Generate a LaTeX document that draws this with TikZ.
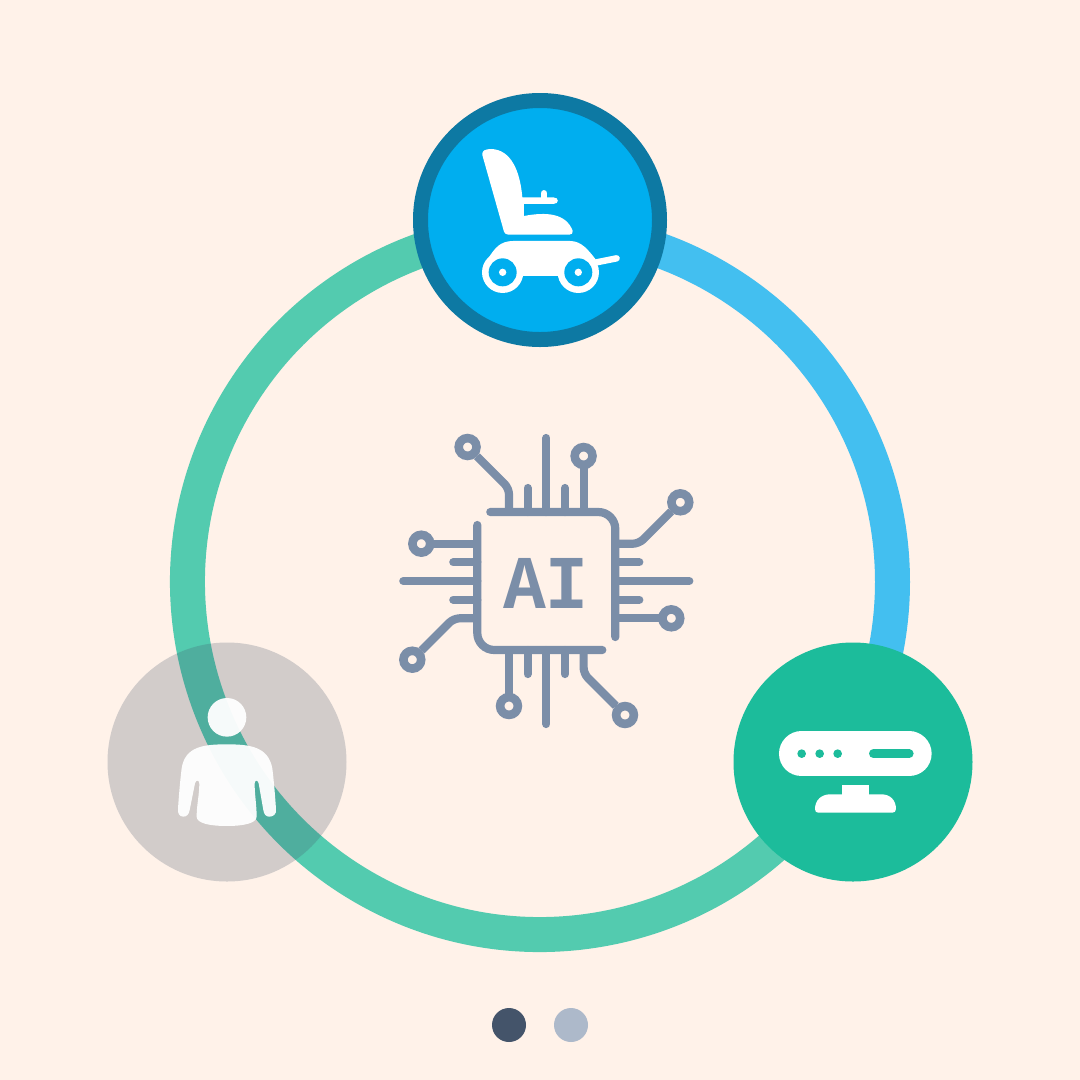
\documentclass[tikz,border=0pt]{standalone}
\usepackage{fontspec}
\usepackage{tikz}
\newfontfamily\chipfont{Liberation Mono}
\definecolor{paper}{HTML}{FFF2E9}
\definecolor{ringgreen}{HTML}{53CBAF}
\definecolor{ringblue}{HTML}{43BFF0}
\definecolor{chairblue}{HTML}{00AEEF}
\definecolor{chairedge}{HTML}{0D79A3}
\definecolor{routergreen}{HTML}{1CBC9B}
\definecolor{slate}{HTML}{44546A}
\definecolor{chipgrey}{HTML}{7B8EA8}
\definecolor{dotlight}{HTML}{ADB9CA}

\begin{document}
\begin{tikzpicture}[x=1pt,y=-1pt]
    \tikzstyle{badge}=[circle,minimum size=239pt,inner sep=0pt]
    \tikzstyle{pager}=[circle,minimum size=34pt,inner sep=0pt]
    \tikzstyle{ring}=[line width=35pt]
    \tikzstyle{trace}=[draw=chipgrey,line width=8.2pt,line cap=round]

    \useasboundingbox (0,0) rectangle (1080,1080);
    \fill[paper] (0,0) rectangle (1080,1080);

    \coordinate (hub) at (540,582);
    \draw[ring,ringblue] (hub) ++(-90:352.5) arc[start angle=-90,end angle=30,radius=352.5];
    \draw[ring,ringgreen] (hub) ++(30:352.5) arc[start angle=30,end angle=270,radius=352.5];

    \node (chair) [badge,fill=chairblue,draw=chairedge,line width=15pt] at (540,220) {};
    \node (router) [badge,fill=routergreen] at (853,762) {};
    \node (person) [badge,fill=slate,fill opacity=0.24] at (227,762) {};

    \node (pageon) [pager,fill=slate] at (509,1025) {};
    \node (pageoff) [pager,fill=dotlight] at (571,1025) {};

    % wheelchair
    \begin{scope}[shift={(400,90)},x=0.3333pt,y=-0.3333pt]
      \fill[white] (247,195) .. controls (245,182) and (255,177) .. (275,177)
        .. controls (332,180) and (360,240) .. (367,322) -- (460,322)
        .. controls (478,322) and (478,342) .. (460,342) -- (372,342) -- (372,378)
        .. controls (440,365) and (498,370) .. (518,422)
        .. controls (520,430) and (515,434) .. (508,434) -- (325,434)
        .. controls (318,434) and (314,430) .. (312,425) -- cycle;
      \draw[white,line width=6.6pt,line cap=round] (432,310) -- (432,325);
      \fill[white] (268,500) .. controls (285,475) and (300,453) .. (340,453) -- (510,453)
        .. controls (545,453) and (565,480) .. (590,512) -- (535,558) -- (308,558) -- cycle;
      \draw[white,line width=6.4pt,line cap=round] (590,517) -- (650,505);
      \foreach \wx in {308,535} {
        \fill[white] (\wx,547) circle[radius=62];
        \fill[chairblue] (\wx,547) circle[radius=42];
        \fill[white] (\wx,547) circle[radius=11];
      }
    \end{scope}

    % router
    \begin{scope}[shift={(725,635)},x=0.3333pt,y=-0.3333pt]
      \draw[white,line width=45pt,line cap=round] (229.5,356.5) -- (552.5,356.5);
      \foreach \dx in {230,284,338}
        \fill[routergreen] (\dx,356) circle[radius=13];
      \draw[routergreen,line width=8.6pt,line cap=round] (445,356) -- (553,356);
      \fill[white] (351,450) rectangle (432,490);
      \fill[white] (270,522) .. controls (270,495) and (290,478) .. (315,478) -- (470,478)
        .. controls (495,478) and (513,495) .. (513,522)
        .. controls (513,530) and (508,533) .. (502,533) -- (280,533)
        .. controls (274,533) and (270,530) .. (270,522) -- cycle;
    \end{scope}

    % person
    \begin{scope}[shift={(100,635)},x=0.3333pt,y=-0.3333pt]
      \fill[white,opacity=0.95] (381,247) circle[radius=58];
      \fill[white,opacity=0.95] (380,328) .. controls (450,328) and (505,335) .. (517,400)
        .. controls (522,440) and (526,490) .. (528,522)
        .. controls (530,538) and (520,545) .. (508,545)
        .. controls (498,545) and (492,538) .. (490,525) -- (476,445)
        .. controls (474,434) and (464,434) .. (464,446)
        .. controls (464,480) and (470,510) .. (470,545)
        .. controls (470,565) and (430,573) .. (380,573)
        .. controls (330,573) and (290,565) .. (290,545)
        .. controls (290,510) and (298,480) .. (298,446)
        .. controls (298,434) and (288,434) .. (285,445) -- (269,525)
        .. controls (267,538) and (260,545) .. (250,545)
        .. controls (238,545) and (233,535) .. (234,522)
        .. controls (236,490) and (240,440) .. (245,400)
        .. controls (255,335) and (310,328) .. (380,328) -- cycle;
    \end{scope}

    % chip
    \begin{scope}[shift={(546.3,581)}]
      \foreach \turn in {0,180} {
        \begin{scope}[rotate=\turn]
          \draw[trace,rounded corners=17pt] (-56,-69) -- (69,-69) -- (69,56);
        \end{scope}
      }
      \foreach \turn in {0,90,180,270} {
        \begin{scope}[rotate=\turn]
          \draw[trace,rounded corners=6pt,line cap=butt] (-37.3,-69) -- (-37.3,-92.6) -- (-69.5,-124.8);
          \draw[trace] (-18.7,-69) -- (-18.7,-93);
          \draw[trace] (0,-69) -- (0,-143);
          \draw[trace] (18.7,-69) -- (18.7,-93);
          \draw[trace,line cap=butt] (37.3,-69) -- (37.3,-116);
          \draw[trace,line width=8.6pt] (-78.7,-134) circle[radius=8.9];
          \draw[trace,line width=8.6pt] (37.3,-125) circle[radius=8.9];
        \end{scope}
      }
    \end{scope}
    \node (ailabel) [text=chipgrey,inner sep=0pt,xscale=0.94,transform shape,font=\chipfont\bfseries\fontsize{76}{76}\selectfont] at (546,583) {AI};
\end{tikzpicture}
\end{document}
